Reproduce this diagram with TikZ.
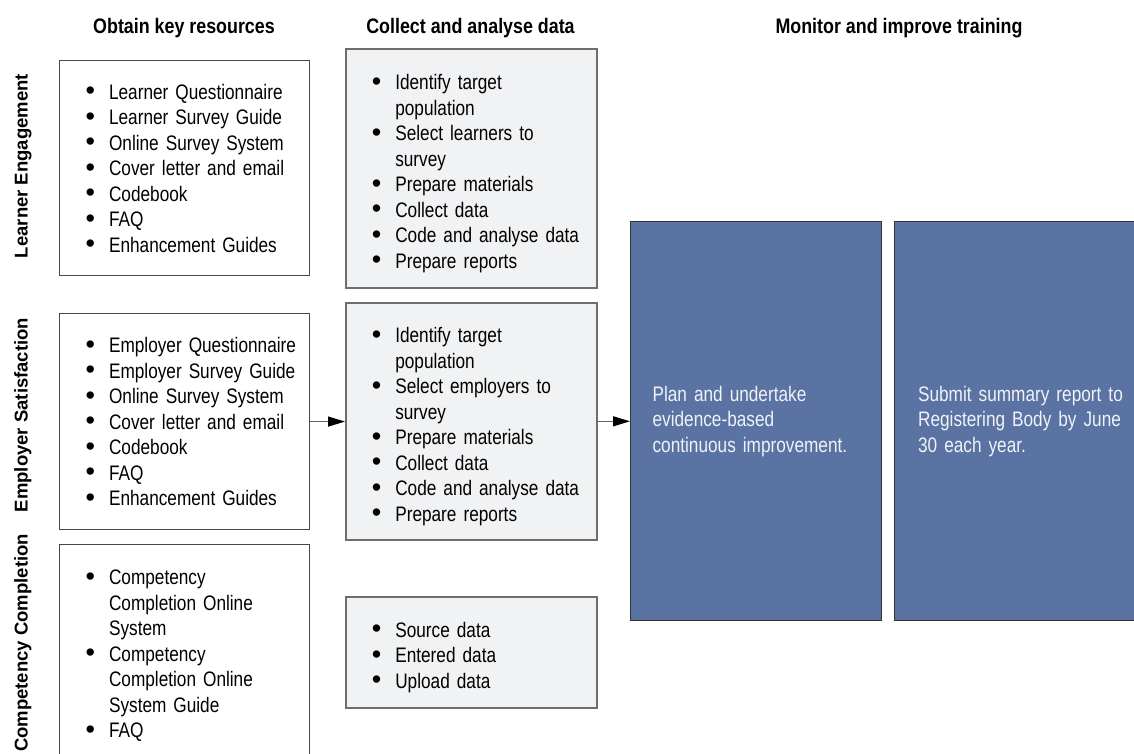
\documentclass[tikz,border=0pt]{standalone}
\usepackage{fontspec}
\setmainfont{Liberation Sans}[FakeStretch=0.82]
\newfontfamily\hdfont{Liberation Sans}[FakeStretch=0.85]
\newfontfamily\sdfont{Liberation Sans}
\usetikzlibrary{arrows.meta}
\definecolor{boxgray}{HTML}{F1F2F4}
\definecolor{bluefill}{HTML}{5A73A3}
\definecolor{bluetext}{HTML}{F0F2F7}
\definecolor{edgegray}{HTML}{6E6E6E}
\newcommand\mybullet{\makebox[23.5pt][l]{\raisebox{-0.5pt}{\sdfont\fontsize{27}{0}\selectfont\textbullet}}}
\newcommand\bitem[1]{\par\noindent\mybullet#1}
\newcommand\cont[1]{\par\noindent\hspace*{23.5pt}#1}
\newcommand\liftup[1]{\par\kern#1\hrule height 0pt\relax}
\tikzset{
  bodyfont/.style={font=\fontsize{21}{25.5}\selectfont},
  resbox/.style={draw=black!72, line width=1.1pt, fill=white, inner xsep=0pt, inner ysep=0pt,
    text width=250pt, minimum width=250pt, align=left, anchor=north west, bodyfont},
  anabox/.style={resbox, draw=edgegray, line width=1.6pt, fill=boxgray, text width=251pt, minimum width=251pt},
  monbox/.style={draw=black!80, line width=1.2pt, fill=bluefill, text=bluetext, inner xsep=0pt, inner ysep=0pt,
    align=left, anchor=north west, bodyfont},
  header/.style={font=\hdfont\bfseries\fontsize{21}{24}\selectfont, anchor=base, inner sep=0pt},
  sidelabel/.style={font=\sdfont\bfseries\fontsize{18.5}{22}\selectfont, anchor=base, rotate=90, inner sep=0pt},
  conn/.style={draw=black!60, line width=1.2pt, -{Triangle[length=17pt,width=10pt,color=black]}},
}
\begin{document}
\begin{tikzpicture}[x=1pt,y=-1pt]
\useasboundingbox (0,0) rectangle (1134,753);

% headers
\node[header] (h1) at (184,33) {Obtain key resources};
\node[header] (h2) at (470.5,33) {Collect and analyse data};
\node[header] (h3) at (899,33) {Monitor and improve training};

% side labels
\node[sidelabel] (s1) at (27.5,166) {Learner Engagement};
\node[sidelabel] (s2) at (27.5,415) {Employer Satisfaction};
\node[sidelabel] (s3) at (27.5,643) {Competency Completion};

% resources
\node[resbox, minimum height=215pt] (A1) at (59,60) {\leftskip=26pt
  \bitem{Learner Questionnaire}
  \bitem{Learner Survey Guide}
  \bitem{Online Survey System}
  \bitem{Cover letter and email}
  \bitem{Codebook}
  \bitem{FAQ}
  \bitem{Enhancement Guides}\liftup{10pt}};
\node[resbox, minimum height=216pt] (A2) at (59,313) {\leftskip=26pt
  \bitem{Employer Questionnaire}
  \bitem{Employer Survey Guide}
  \bitem{Online Survey System}
  \bitem{Cover letter and email}
  \bitem{Codebook}
  \bitem{FAQ}
  \bitem{Enhancement Guides}\liftup{10pt}};
\node[resbox, minimum height=222pt] (A3) at (59,544) {\leftskip=26pt
  \bitem{Competency}
  \cont{Completion Online}
  \cont{System}
  \bitem{Competency}
  \cont{Completion Online}
  \cont{System Guide}
  \bitem{FAQ}\liftup{10pt}};

% analyse
\node[anabox, minimum height=239pt] (B1) at (345,48) {\leftskip=26pt
  \bitem{Identify target}
  \cont{population}
  \bitem{Select learners to}
  \cont{survey}
  \bitem{Prepare materials}
  \bitem{Collect data}
  \bitem{Code and analyse data}
  \bitem{Prepare reports}\par};
\node[anabox, minimum height=237pt] (B2) at (345,302) {\leftskip=26pt
  \bitem{Identify target}
  \cont{population}
  \bitem{Select employers to}
  \cont{survey}
  \bitem{Prepare materials}
  \bitem{Collect data}
  \bitem{Code and analyse data}
  \bitem{Prepare reports}\par};
\node[anabox, minimum height=111pt] (B3) at (345,596) {\leftskip=26pt
  \bitem{Source data}
  \bitem{Entered data}
  \bitem{Upload data}\par};

% monitor
\node[monbox, text width=251pt, minimum width=251pt, minimum height=399pt] (C1) at (630,221) {\leftskip=22pt
  \par\noindent Plan and undertake
  \par\noindent evidence-based
  \par\noindent continuous improvement.\liftup{10pt}};
\node[monbox, text width=260pt, minimum width=260pt, minimum height=399pt] (C2) at (894,221) {\leftskip=23.5pt
  \par\noindent Submit summary report to
  \par\noindent Registering Body by June
  \par\noindent 30 each year.\liftup{10pt}};

% connectors
\draw[conn] (A2.east) -- (A2.east -| B2.west);
\draw[conn] (B2.east) -- (B2.east -| C1.west);
\end{tikzpicture}
\end{document}
